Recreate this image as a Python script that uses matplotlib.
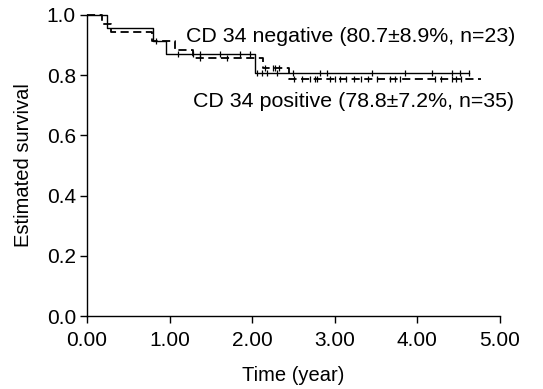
import numpy as np
import matplotlib.pyplot as plt

plt.rcParams['font.family'] = ['Liberation Sans', 'DejaVu Sans']

# CD 34 negative (solid): step times and survival after each step
neg_times = [0.0, 0.24, 0.80, 0.96, 2.03, 4.63]
neg_surv = [1.0, 0.9565, 0.913, 0.870, 0.807, 0.807]
neg_censor = [1.10, 1.28, 1.37, 1.61, 1.85, 1.97, 2.06, 2.12, 2.18, 2.30,
              2.49, 2.82, 2.90, 3.45, 3.85, 4.18, 4.42, 4.51, 4.63]

# CD 34 positive (dashed)
pos_times = [0.0, 0.18, 0.29, 0.79, 1.06, 1.28, 2.13, 2.45, 4.77]
pos_surv = [1.0, 0.971, 0.943, 0.914, 0.885, 0.856, 0.824, 0.788, 0.788]
pos_censor = [0.84, 1.37, 1.70, 2.16, 2.25, 2.28, 2.33, 2.51, 2.60, 2.70,
              2.76, 2.79, 2.94, 3.00, 3.06, 3.14, 3.23, 3.32, 3.40, 3.51,
              3.67, 3.73, 3.79, 4.21, 4.29, 4.42, 4.47, 4.53]

xticks = [0, 1, 2, 3, 4, 5]
xticklabels = ['0.00', '1.00', '2.00', '3.00', '4.00', '5.00']
yticks = [0.0, 0.2, 0.4, 0.6, 0.8, 1.0]

label_neg = 'CD 34 negative (80.7\u00b18.9%, n=23)'
label_pos = 'CD 34 positive (78.8\u00b17.2%, n=35)'


def surv_at(t, times, surv):
    idx = np.searchsorted(times, t, side='right') - 1
    return np.array(surv)[idx]


fig = plt.figure(figsize=(5.43, 3.89), dpi=100)
ax = fig.add_axes([87 / 543, 1 - 316 / 389, 413 / 543, 301 / 389])

ax.step(neg_times, neg_surv, where='post', color='black', lw=1.0, clip_on=False)
ax.plot(neg_censor, surv_at(neg_censor, neg_times, neg_surv), linestyle='none',
        marker='|', markersize=5, markeredgewidth=0.9, color='black', clip_on=False)

ax.step(pos_times, pos_surv, where='post', color='black', lw=1.3,
        linestyle=(0, (4.5, 2.5)), clip_on=False)
ax.plot(pos_censor, surv_at(pos_censor, pos_times, pos_surv), linestyle='none',
        marker='|', markersize=5, markeredgewidth=0.9, color='black', clip_on=False)

ax.text(1.2, 0.927, label_neg, fontsize=15.4, va='center', ha='left')
ax.text(1.28, 0.714, label_pos, fontsize=15.4, va='center', ha='left')

ax.set_xlim(0, 5)
ax.set_ylim(0, 1)
ax.set_xticks(xticks)
ax.set_xticklabels(xticklabels)
ax.set_yticks(yticks)
ax.set_yticklabels([f'{v:.1f}' for v in yticks])
ax.tick_params(direction='out', length=5, width=1, labelsize=15, pad=3)
ax.tick_params(axis='x', pad=6)
for s in ['top', 'right']:
    ax.spines[s].set_visible(False)
for s in ['left', 'bottom']:
    ax.spines[s].set_linewidth(1)

ax.set_xlabel('Time (year)', fontsize=14.5, labelpad=11)
ax.set_ylabel('Estimated survival', fontsize=14.5, labelpad=10)

fig.savefig('out.png', dpi=100)
